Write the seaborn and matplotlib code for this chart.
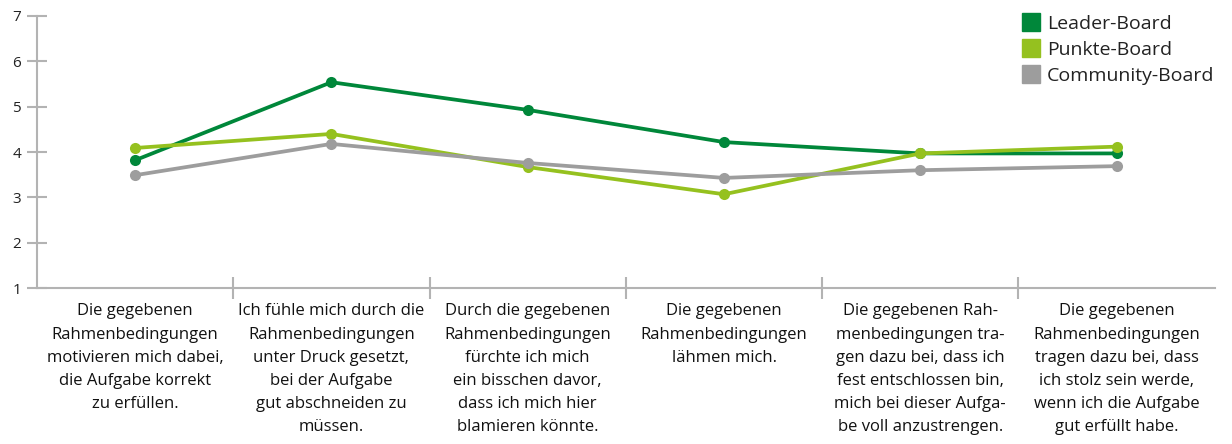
import matplotlib
matplotlib.use("Agg")
import matplotlib.pyplot as plt
import seaborn as sns
import pandas as pd
from matplotlib.lines import Line2D

categories = [
    "Die gegebenen\nRahmenbedingungen\nmotivieren mich dabei,\ndie Aufgabe korrekt\nzu erfüllen.",
    "Ich fühle mich durch die\nRahmenbedingungen\nunter Druck gesetzt,\nbei der Aufgabe\ngut abschneiden zu\nmüssen.",
    "Durch die gegebenen\nRahmenbedingungen\nfürchte ich mich\nein bisschen davor,\ndass ich mich hier\nblamieren könnte.",
    "Die gegebenen\nRahmenbedingungen\nlähmen mich.",
    "Die gegebenen Rah-\nmenbedingungen tra-\ngen dazu bei, dass ich\nfest entschlossen bin,\nmich bei dieser Aufga-\nbe voll anzustrengen.",
    "Die gegebenen\nRahmenbedingungen\ntragen dazu bei, dass\nich stolz sein werde,\nwenn ich die Aufgabe\ngut erfüllt habe.",
]
series_names = ["Leader-Board", "Punkte-Board", "Community-Board"]
leader = [3.82, 5.54, 4.93, 4.22, 3.97, 3.97]
punkte = [4.09, 4.40, 3.67, 3.07, 3.97, 4.12]
community = [3.49, 4.18, 3.76, 3.43, 3.60, 3.69]
y_ticks = [1, 2, 3, 4, 5, 6, 7]

colors = ["#00873a", "#95c11f", "#9d9d9d"]

rows = []
for name, vals in zip(series_names, [leader, punkte, community]):
    for i, v in enumerate(vals):
        rows.append({"pos": i, "value": v, "series": name})
df = pd.DataFrame(rows)

sns.set_style("white")
plt.rcParams["font.family"] = ["Open Sans", "DejaVu Sans"]

fig = plt.figure(figsize=(12.32, 4.44), dpi=100)
ax = fig.add_axes([0.030, 0.351, 0.956, 0.613])

sns.lineplot(data=df, x="pos", y="value", hue="series", hue_order=series_names,
             palette=colors, marker="o", markersize=8, markeredgewidth=0,
             linewidth=2.7, ax=ax, legend=False)

ax.set_xlim(-0.5, 5.5)
ax.set_ylim(1, 7)
ax.set_xlabel("")
ax.set_ylabel("")

axis_color = "#b3b3b3"
for s in ["top", "right"]:
    ax.spines[s].set_visible(False)
for s in ["left", "bottom"]:
    ax.spines[s].set_color(axis_color)
    ax.spines[s].set_linewidth(1.5)

ax.set_yticks(y_ticks)
ax.set_yticklabels([str(t) for t in y_ticks], fontsize=11, color="#222222")
ax.tick_params(axis="y", direction="inout", length=15, width=1.5, color=axis_color, pad=4, left=True)

ax.set_xticks(range(len(categories)))
ax.set_xticklabels(categories, fontsize=12, color="#111111", linespacing=1.6)
ax.tick_params(axis="x", which="major", length=0, pad=11)
ax.set_xticks([i + 0.5 for i in range(len(categories) - 1)], minor=True)
ax.tick_params(axis="x", which="minor", direction="inout", length=16, width=1.5, color=axis_color, bottom=True)

handles = [Line2D([], [], marker="s", linestyle="none", markersize=13, color=c) for c in colors]
leg = fig.legend(handles, series_names, loc="upper right",
                 bbox_to_anchor=(1222 / 1232, 1 - 7 / 444), bbox_transform=fig.transFigure,
                 borderaxespad=0, frameon=False, fontsize=14, handletextpad=0.3,
                 labelspacing=0.42, handlelength=1.0)
for t in leg.get_texts():
    t.set_color("#222222")

fig.savefig("out.png", dpi=100)
